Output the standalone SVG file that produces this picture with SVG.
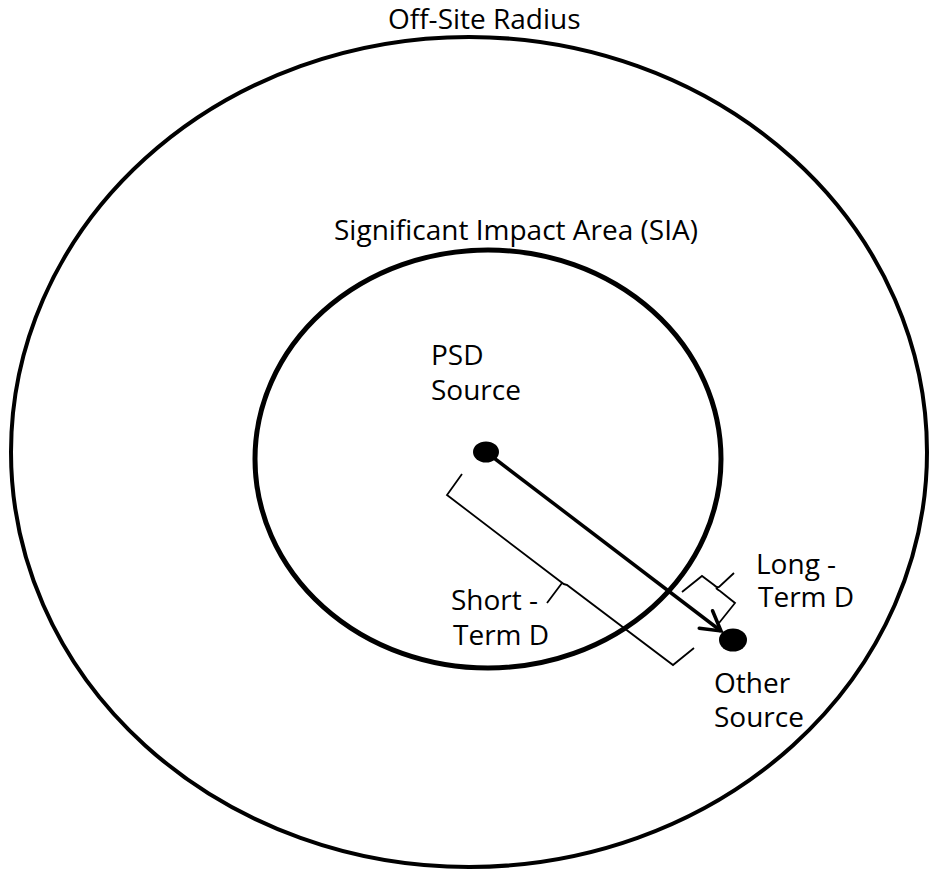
<svg xmlns="http://www.w3.org/2000/svg" width="930" height="871" viewBox="0 0 930 871">
  <style>
    .ring { fill: none; stroke: #000; }
    .lbl { font-family: "Open Sans", "Noto Sans", "Liberation Sans", sans-serif; font-size: 28px; fill: #000; }
    .brace { fill: none; stroke: #000; stroke-width: 1.8; stroke-linejoin: miter; }
    .dot { fill: #000; }
    .arrow { fill: none; stroke: #000; stroke-width: 3.5; }
  </style>
  <defs>
    <marker id="open-head" markerUnits="userSpaceOnUse" viewBox="-24 -14 28 28" markerWidth="28" markerHeight="28" refX="0" refY="0" orient="auto">
      <path d="M -19 -11 L 0 0 L -19 11" fill="none" stroke="#000" stroke-width="3.5" stroke-linecap="round" stroke-linejoin="miter"/>
    </marker>
  </defs>
  <rect width="930" height="871" fill="#fff"/>

  <!-- Off-site radius zone -->
  <g id="offsite-radius">
    <ellipse class="ring" cx="469" cy="452" rx="458" ry="415" stroke-width="4"/>
    <text class="lbl" x="388" y="29">Off-Site Radius</text>
  </g>

  <!-- Significant impact area -->
  <g id="sia">
    <ellipse class="ring" cx="488" cy="459" rx="233" ry="209" stroke-width="5"/>
    <text class="lbl" x="334" y="240">Significant Impact Area (SIA)</text>
  </g>

  <!-- PSD source -->
  <g id="psd-source">
    <ellipse class="dot" cx="486" cy="452" rx="13" ry="10.5"/>
    <text class="lbl" x="431" y="365">PSD<tspan x="431" dy="35">Source</tspan></text>
  </g>

  <!-- Other source -->
  <g id="other-source">
    <ellipse class="dot" cx="733" cy="640" rx="14" ry="11.5"/>
    <text class="lbl" x="714" y="693">Other<tspan x="714" dy="34">Source</tspan></text>
  </g>

  <!-- Distance connector and its braces -->
  <g id="connectors">
    <line class="arrow" x1="490" y1="455" x2="721" y2="631" marker-end="url(#open-head)"/>
    <path class="brace" d="M 462 474 L 447 495 L 561 582 Q 564 585 567 585 L 673 665 L 694 648 M 562 583 L 547 603"/>
    <path class="brace" d="M 682 592 L 702 576 L 714 585 Q 717 588 719 587 L 734 573 M 716 588 Q 718 590 720 591 L 735 603 L 719 623"/>
  </g>

  <!-- Distance labels -->
  <g id="short-term-label">
    <text class="lbl" x="451" y="610">Short -<tspan x="453" dy="35">Term D</tspan></text>
  </g>
  <g id="long-term-label">
    <text class="lbl" x="756" y="574">Long -<tspan x="758" dy="33">Term D</tspan></text>
  </g>
</svg>
